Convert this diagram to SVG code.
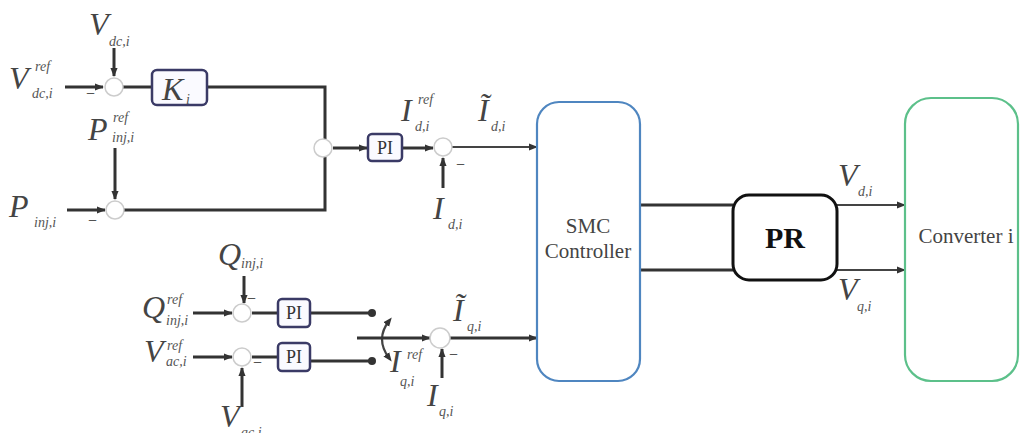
<svg xmlns="http://www.w3.org/2000/svg" width="1020" height="433" viewBox="0 0 1020 433">
<defs>
<marker id="ah" viewBox="0 0 10 10" refX="9" refY="5" markerWidth="9" markerHeight="9" markerUnits="userSpaceOnUse" orient="auto">
<path d="M0,1 L10,5 L0,9 Z" fill="#333"/>
</marker>
<marker id="ah2" viewBox="0 0 10 10" refX="5" refY="5" markerWidth="9" markerHeight="9" markerUnits="userSpaceOnUse" orient="auto-start-reverse">
<path d="M0,1 L10,5 L0,9 Z" fill="#333"/>
</marker>
<style>
.ln{stroke:#333;stroke-width:3;fill:none}
.lt{stroke:#444;stroke-width:2.2;fill:none}
.sum{fill:#fff;stroke:#ccc;stroke-width:1.5}
.blk{fill:#fafaff;stroke:#3a3a66;stroke-width:2.5}
.m{font-family:"Liberation Serif",serif;font-style:italic;font-size:32px;fill:#444}
.s{font-family:"Liberation Serif",serif;font-style:italic;font-size:14px;fill:#555}
.t{font-family:"Liberation Serif",serif;font-size:21px;fill:#444}
.p{font-family:"Liberation Serif",serif;font-size:18px;fill:#333}
.mn{font-family:"Liberation Serif",serif;font-size:16px;fill:#333}
</style>
</defs>

<g id="connectors">
<path class="ln" d="M65,87 L103,87" marker-end="url(#ah)"/>
<path class="ln" d="M114,48 L114,76" marker-end="url(#ah)"/>
<path class="ln" d="M123,87 L152,87"/>
<path class="ln" d="M207,87 L325,87 L325,210 L124,210"/>
<path class="ln" d="M67,210 L105,210" marker-end="url(#ah)"/>
<path class="ln" d="M115,148 L115,199" marker-end="url(#ah)"/>
<path class="ln" d="M333,148 L367,148" marker-end="url(#ah)"/>
<path class="ln" d="M402,148 L433,148" marker-end="url(#ah)"/>
<path class="ln" d="M443,188 L443,158" marker-end="url(#ah)"/>
<path class="lt" d="M452,147 L537,147" marker-end="url(#ah)"/>
<path class="ln" d="M244,276 L244,303" marker-end="url(#ah)"/>
<path class="ln" d="M193,313 L232,313" marker-end="url(#ah)"/>
<path class="ln" d="M252,313 L278,313"/>
<path class="ln" d="M310,313 L372,313"/>
<path class="ln" d="M193,357 L232,357" marker-end="url(#ah)"/>
<path class="ln" d="M252,357 L278,357"/>
<path class="ln" d="M310,361 L372,361"/>
<path class="ln" d="M242,407 L242,368" marker-end="url(#ah)"/>
<circle cx="372" cy="313" r="4" fill="#333"/>
<circle cx="372" cy="361" r="4" fill="#333"/>
<path class="lt" d="M389,321 Q375,339 389,358" marker-start="url(#ah2)" marker-end="url(#ah2)"/>
<path class="ln" d="M357,338 L430,338" marker-end="url(#ah)"/>
<path class="ln" d="M442,378 L442,349" marker-end="url(#ah)"/>
<path class="ln" d="M450,338 L537,338" marker-end="url(#ah)"/>
<path class="ln" d="M640,205 L733,205"/>
<path class="ln" d="M640,270 L733,270"/>
<path class="lt" d="M837,205 L905,205" marker-end="url(#ah)"/>
<path class="lt" d="M837,270 L905,270" marker-end="url(#ah)"/>
</g>

<g id="sum1"><circle class="sum" cx="114" cy="87" r="9"/></g>
<g id="sum2"><circle class="sum" cx="115" cy="210" r="9"/></g>
<g id="sum3"><circle class="sum" cx="323" cy="148" r="9"/></g>
<g id="sum4"><circle class="sum" cx="443" cy="147" r="9"/></g>
<g id="sum5"><circle class="sum" cx="242" cy="313" r="9"/></g>
<g id="sum6"><circle class="sum" cx="242" cy="357" r="9"/></g>
<g id="sum7"><circle class="sum" cx="440" cy="338" r="10"/></g>

<g id="K"><rect class="blk" x="152" y="70" width="55" height="35" rx="5"/>
<text class="m" x="162" y="100" font-size="31">K</text><text class="s" x="186" y="104" font-size="11">i</text></g>
<g id="PI1"><rect class="blk" x="368" y="134" width="34" height="27" rx="4"/><text class="p" x="385" y="154" text-anchor="middle">PI</text></g>
<g id="PI2"><rect class="blk" x="278" y="299" width="32" height="28" rx="4"/><text class="p" x="294" y="319" text-anchor="middle">PI</text></g>
<g id="PI3"><rect class="blk" x="278" y="343" width="32" height="28" rx="4"/><text class="p" x="294" y="363" text-anchor="middle">PI</text></g>

<g id="SMC"><rect x="537" y="102" width="103" height="279" rx="22" fill="#fff" stroke="#4f86c0" stroke-width="2.2"/>
<text class="t" x="588" y="233" text-anchor="middle">SMC</text>
<text class="t" x="588" y="258" text-anchor="middle">Controller</text></g>
<g id="PR"><rect x="733" y="195" width="104" height="85" rx="16" fill="#fff" stroke="#111" stroke-width="3"/>
<text x="785" y="248" text-anchor="middle" font-family="Liberation Serif,serif" font-weight="bold" font-size="30" fill="#111">PR</text></g>
<g id="Converter"><rect x="905" y="98" width="113" height="283" rx="26" fill="#fff" stroke="#5cc08a" stroke-width="2.2"/>
<text class="t" x="966" y="243" text-anchor="middle">Converter i</text></g>

<g id="labels">
<text class="m" x="89" y="35">V</text><text class="s" x="109" y="46">dc,i</text>
<text class="m" x="9" y="89">V</text><text class="s" x="35" y="71">ref</text><text class="s" x="32" y="98">dc,i</text>
<text class="mn" x="86" y="99">−</text>
<text class="m" x="88" y="140">P</text><text class="s" x="113" y="122">ref</text><text class="s" x="112" y="142">inj,i</text>
<text class="m" x="9" y="217">P</text><text class="s" x="34" y="227">inj,i</text>
<text class="mn" x="88" y="226">−</text>
<text class="m" x="401" y="121">I</text><text class="s" x="418" y="104">ref</text><text class="s" x="415" y="131">d,i</text>
<text class="m" x="478" y="121">Ĩ</text><text class="s" x="491" y="131">d,i</text>
<text class="mn" x="456" y="170">−</text>
<text class="m" x="433" y="219">I</text><text class="s" x="448" y="229">d,i</text>
<text class="m" x="218" y="265">Q</text><text class="s" x="241" y="268">inj,i</text>
<text class="mn" x="247" y="304">−</text>
<text class="m" x="142" y="318">Q</text><text class="s" x="167" y="304">ref</text><text class="s" x="166" y="325">inj,i</text>
<text class="m" x="144" y="362">V</text><text class="s" x="167" y="350">ref</text><text class="s" x="166" y="366">ac,i</text>
<text class="mn" x="253" y="368">−</text>
<text class="m" x="220" y="427">V</text><text class="s" x="241" y="437">ac,i</text>
<text class="m" x="390" y="372">I</text><text class="s" x="407" y="359">ref</text><text class="s" x="400" y="386">q,i</text>
<text class="m" x="453" y="321">Ĩ</text><text class="s" x="467" y="331">q,i</text>
<text class="mn" x="449" y="360">−</text>
<text class="m" x="427" y="406">I</text><text class="s" x="439" y="416">q,i</text>
<text class="m" x="838" y="186">V</text><text class="s" x="858" y="196">d,i</text>
<text class="m" x="838" y="300">V</text><text class="s" x="857" y="311">q,i</text>
</g>
</svg>
